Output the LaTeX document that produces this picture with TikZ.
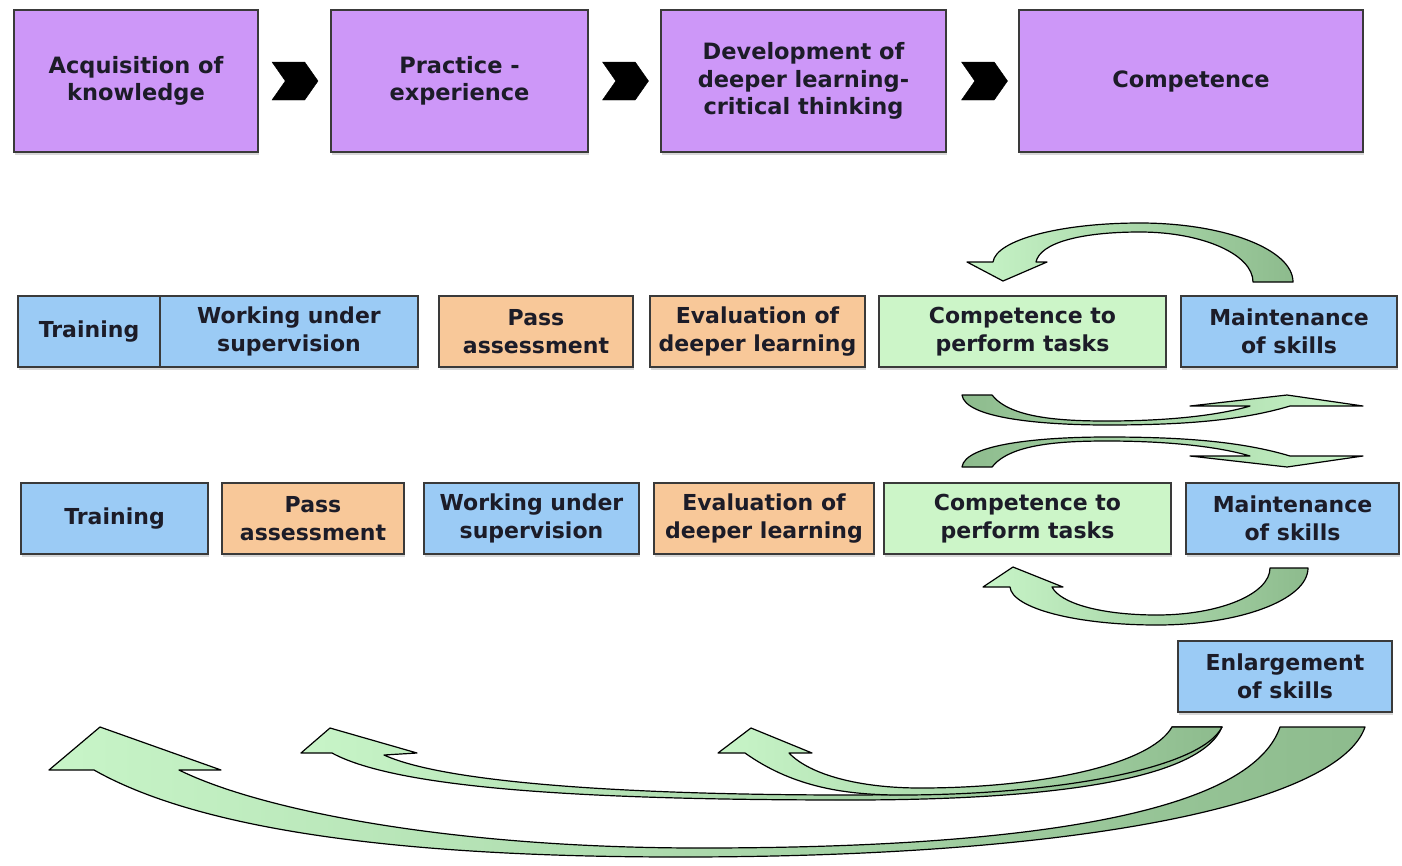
\documentclass[tikz,border=0pt]{standalone}
\usepackage{fontspec}
\setmainfont{DejaVu Sans}
\usetikzlibrary{shapes.symbols,shadows}
\definecolor{purp}{HTML}{CD97F8}
\definecolor{blu}{HTML}{9BCBF5}
\definecolor{ora}{HTML}{F8C899}
\definecolor{grn}{HTML}{CCF5C8}
\definecolor{boxline}{HTML}{3A3A3A}
\definecolor{txt}{HTML}{1C1C28}
\definecolor{alight}{HTML}{C8F5C8}
\definecolor{adark}{HTML}{8DBB8D}
\tikzset{
  box/.style={draw=boxline, line width=1.6pt, align=center, text=txt, inner sep=0pt,
    font=\fontsize{22}{28}\selectfont\bfseries,
    drop shadow={shadow xshift=1pt, shadow yshift=-2.5pt, opacity=.3}},
  pbox/.style={box, fill=purp, minimum height=142pt, font=\fontsize{22.5}{27.5}\selectfont\bfseries},
  bbox/.style={box, fill=blu, minimum height=71pt},
  obox/.style={box, fill=ora, minimum height=71pt},
  gbox/.style={box, fill=grn, minimum height=71pt},
  chev/.style={shape=signal, signal from=west, signal to=east, signal pointer angle=110,
    fill=black, draw=black, minimum width=46pt, minimum height=38pt, inner sep=0pt},
  barrow/.style={draw=black, line width=1.2pt, line join=round, left color=alight, right color=adark},
  rarrow/.style={draw=black, line width=1.2pt, line join=round, left color=adark, right color=alight}
}
\begin{document}
\begin{tikzpicture}[x=1pt,y=-1pt]
\fill[white] (0,0) rectangle (1402,865);
\useasboundingbox (0,0) rectangle (1402,865);

% top row
\node[pbox, minimum width=244pt] (b1) at (136,81) {Acquisition of\\knowledge};
\node[pbox, minimum width=257pt] (b2) at (459.5,81) {Practice -\\experience};
\node[pbox, minimum width=285pt] (b3) at (803.5,81) {Development of\\deeper learning-\\critical thinking};
\node[pbox, minimum width=344pt] (b4) at (1191,81) {Competence};
\node[chev] (c1) at (295,81) {};
\node[chev] (c2) at (625.5,81) {};
\node[chev] (c3) at (984.5,81) {};

% row 2
\node[bbox, minimum width=142pt] (r2a) at (89,331.5) {Training};
\node[bbox, minimum width=258pt] (r2b) at (289,331.5) {Working under\\supervision};
\node[obox, minimum width=194pt] (r2c) at (536,331.5) {Pass\\assessment};
\node[obox, minimum width=215pt] (r2d) at (757.5,331.5) {Evaluation of\\deeper learning};
\node[gbox, minimum width=287pt] (r2e) at (1022.5,331.5) {Competence to\\perform tasks};
\node[bbox, minimum width=216pt] (r2f) at (1289,331.5) {Maintenance\\of skills};

% row 3
\node[bbox, minimum width=187pt] (r3a) at (114.5,518.5) {Training};
\node[obox, minimum width=182pt] (r3b) at (313,518.5) {Pass\\assessment};
\node[bbox, minimum width=215pt] (r3c) at (531.5,518.5) {Working under\\supervision};
\node[obox, minimum width=220pt] (r3d) at (764,518.5) {Evaluation of\\deeper learning};
\node[gbox, minimum width=287pt] (r3e) at (1027.5,518.5) {Competence to\\perform tasks};
\node[bbox, minimum width=213pt] (r3f) at (1292.5,518.5) {Maintenance\\of skills};
\node[bbox, minimum width=214pt] (en) at (1285,676.5) {Enlargement\\of skills};

% top curved arrow (maintenance -> competence, row 2)
\path[barrow] (1293,282) .. controls (1293,249.4) and (1224.5,223) .. (1140,223)
  .. controls (1060,223) and (996,240) .. (993,262)
  -- (967,262) -- (1003,281) -- (1047,262) -- (1036,262)
  .. controls (1040,243) and (1080,232) .. (1140,232)
  .. controls (1202.4,232) and (1253,254.4) .. (1253,282) -- cycle;

% middle swooshes
\path[rarrow] (962,395) -- (992,395)
  .. controls (1010,418) and (1060,421) .. (1107,421)
  .. controls (1170,421) and (1220,415) .. (1250,406)
  -- (1190,406) -- (1287,395) -- (1363,406) -- (1290,406)
  .. controls (1240,421) and (1180,425) .. (1107,425)
  .. controls (1040,425) and (965,418) .. (962,395) -- cycle;
\begin{scope}[shift={(0,862)}, yscale=-1]
\path[rarrow] (962,395) -- (992,395)
  .. controls (1010,418) and (1060,421) .. (1107,421)
  .. controls (1170,421) and (1220,415) .. (1250,406)
  -- (1190,406) -- (1287,395) -- (1363,406) -- (1290,406)
  .. controls (1240,421) and (1180,425) .. (1107,425)
  .. controls (1040,425) and (965,418) .. (962,395) -- cycle;
\end{scope}

% arrow below row 3
\path[barrow] (1308,568) .. controls (1308,599.5) and (1240.4,625) .. (1157,625)
  .. controls (1075,625) and (1012,608) .. (1010,587)
  -- (983,587) -- (1013,567) -- (1063,587) -- (1052,587)
  .. controls (1060,603) and (1100,615) .. (1157,615)
  .. controls (1219.4,615) and (1270,594) .. (1270,568) -- cycle;

% bottom big arrow A
\path[barrow] (1365,727) .. controls (1340,800) and (1100,857) .. (680,857)
  .. controls (400,857) and (200,830) .. (94,770)
  -- (49,770) -- (100,727) -- (221,770) -- (179,770)
  .. controls (260,810) and (450,848) .. (700,848)
  .. controls (1020,848) and (1250,815) .. (1280,727) -- cycle;

% arrow B
\path[barrow] (1222,727) .. controls (1200,780) and (1050,800) .. (850,800)
  .. controls (600,800) and (400,790) .. (332,753)
  -- (301,753) -- (330,728) -- (417,753) -- (384,755)
  .. controls (450,785) and (650,795) .. (850,795)
  .. controls (1030,795) and (1150,775) .. (1172,727) -- cycle;

% arrow C
\path[barrow] (1222,727) .. controls (1200,770) and (1050,795) .. (900,795)
  .. controls (840,795) and (790,785) .. (745,753)
  -- (718,753) -- (751,728) -- (812,753) -- (789,753)
  .. controls (810,775) and (860,788) .. (920,788)
  .. controls (1040,788) and (1150,765) .. (1172,727) -- cycle;
\end{tikzpicture}
\end{document}
